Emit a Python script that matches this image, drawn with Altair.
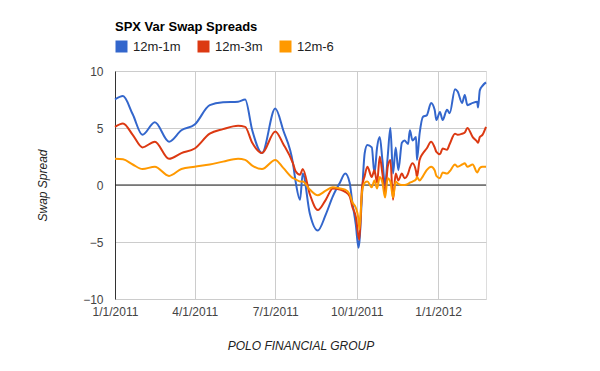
import altair as alt
import pandas as pd

FONT = "Liberation Sans, Arial, Helvetica, sans-serif"

dates = [
    "2011-01-01", "2011-01-10", "2011-01-21", "2011-02-01", "2011-02-15", "2011-03-03",
    "2011-03-17", "2011-04-01", "2011-04-18", "2011-05-03", "2011-05-20", "2011-05-28",
    "2011-06-05", "2011-06-16", "2011-07-01", "2011-07-10", "2011-07-21", "2011-07-24",
    "2011-07-29", "2011-08-01", "2011-08-09", "2011-08-18", "2011-08-27", "2011-09-04",
    "2011-09-12", "2011-09-18", "2011-09-23", "2011-09-26", "2011-09-30", "2011-10-03",
    "2011-10-04", "2011-10-07", "2011-10-10", "2011-10-13", "2011-10-18", "2011-10-21",
    "2011-10-24", "2011-10-27", "2011-10-30", "2011-11-02", "2011-11-05", "2011-11-08",
    "2011-11-11", "2011-11-14", "2011-11-17", "2011-11-21", "2011-11-24", "2011-11-28",
    "2011-11-30", "2011-12-03", "2011-12-07", "2011-12-08", "2011-12-11", "2011-12-15",
    "2011-12-19", "2011-12-24", "2011-12-28", "2011-12-30", "2012-01-03", "2012-01-06",
    "2012-01-11", "2012-01-14", "2012-01-20", "2012-01-23", "2012-01-28", "2012-01-31",
    "2012-02-03", "2012-02-09", "2012-02-14", "2012-02-15", "2012-02-17", "2012-02-20",
    "2012-02-24",
]

spread_12m_1m = [
    7.5, 7.8, 6.2, 4.4, 5.5, 3.8,
    4.8, 5.3, 7.0, 7.25, 7.3, 7.5,
    4.8, 2.8, 6.7, 4.8, 1.9, 0.3,
    -1.3, 1.0, -2.5, -4.0, -2.6, -1.0,
    0.2, 1.0, 0.2, -1.5, -3.5, -5.5,
    -5.0, -0.8, 2.8, 3.5, 3.3, 1.0,
    3.3, 4.2, 2.2, 0.0, 2.5, 5.0,
    1.0, 3.3, 1.3, 3.7, 3.9, 3.6,
    4.8, 3.9, 4.2, 2.2, 4.5, 6.0,
    6.1, 7.2, 6.6, 5.7, 6.4, 5.7,
    6.6, 6.3, 8.4, 8.2, 7.2, 7.9,
    7.0, 7.2, 7.3, 6.8, 8.3, 8.7,
    9.0,
]

spread_12m_3m = [
    5.1, 5.4, 4.4, 3.3, 3.8, 2.3,
    2.8, 3.2, 4.5, 4.9, 5.2, 5.1,
    3.7, 2.8, 4.7, 3.6, 1.9, 1.2,
    0.9, 1.4, -0.8, -2.2, -1.3, -0.3,
    -0.4, -0.6, -1.0, -1.9, -2.8, -4.5,
    -4.8, -0.2, 0.8, 1.6, 0.7, 1.3,
    0.2, 2.5, 1.0, -0.7, 1.6, 2.2,
    -1.3, 1.0, 0.4, 1.0, 0.6, 1.0,
    1.5, 1.9, 1.2, 0.7, 2.2, 2.8,
    3.2, 3.8, 3.3, 2.9, 2.7, 3.2,
    3.1, 3.6, 4.5, 4.4, 4.5, 4.6,
    5.0, 4.2, 3.8, 3.7, 4.2, 4.4,
    5.1,
]

spread_12m_6 = [
    2.3, 2.25, 1.8, 1.4, 1.6, 0.8,
    1.4, 1.6, 1.8, 2.05, 2.3, 2.2,
    1.7, 1.4, 2.2, 1.5, 0.6, 0.5,
    0.3, 0.3, -0.4, -0.9, -0.5, -0.2,
    -0.3, -0.4, -0.8, -1.5, -2.0, -3.0,
    -3.9, -0.6, 0.2, 0.3, -0.2, 0.4,
    -0.3, 0.7, 0.2, -1.1, 0.6, 0.3,
    -1.1, 0.3, 0.1, 0.0, 0.0, 0.1,
    0.2, 0.3, 0.5, 0.7, 0.4, 0.8,
    1.3, 1.6, 1.3, 0.8, 0.6, 1.1,
    1.0, 1.2, 1.8, 1.6, 1.8, 1.9,
    1.6, 1.8, 1.1, 1.2, 1.5, 1.6,
    1.6,
]

series_names = ["12m-1m", "12m-3m", "12m-6"]
series_colors = ["#3366cc", "#dc3912", "#ff9900"]
x_tick_dates = ["2011-01-01", "2011-04-01", "2011-07-01", "2011-10-01", "2012-01-01"]
x_domain = ["2011-01-01", "2012-02-24"]
y_ticks = [-10, -5, 0, 5, 10]
y_domain = [-10, 10]
zero_line = [0]


def dt(s):
    y, m, d = (int(p) for p in s.split("-"))
    return alt.DateTime(year=y, month=m, date=d)


rows = []
for name, vals in zip(series_names, [spread_12m_1m, spread_12m_3m, spread_12m_6]):
    for d, v in zip(dates, vals):
        rows.append({"date": d, "series": name, "value": v})
df = pd.DataFrame(rows)
df["date"] = pd.to_datetime(df["date"])

zero_df = pd.DataFrame({"value": zero_line})

y_axis = alt.Axis(
    values=y_ticks,
    title="Swap Spread",
    domain=True,
    domainColor="#333333",
    domainWidth=1,
    ticks=False,
    grid=True,
    gridColor="#cccccc",
    labelPadding=12,
    labelFontSize=12,
    labelColor="#444444",
    labelFont=FONT,
    titleFont=FONT,
    titleFontSize=12,
    titleFontStyle="italic",
    titleFontWeight="normal",
    titleColor="#222222",
    titleX=-73,
    titleY=114,
    titleAngle=270,
    titleAlign="center",
    titleBaseline="middle",
)
y_scale = alt.Scale(domain=y_domain, nice=False)

zero = alt.Chart(zero_df).mark_rule(color="#222222", strokeWidth=1).encode(
    y=alt.Y("value:Q", scale=y_scale, axis=y_axis)
)

lines = alt.Chart(df).mark_line(strokeWidth=2, interpolate="monotone").encode(
    x=alt.X(
        "date:T",
        scale=alt.Scale(domain=[dt(x_domain[0]), dt(x_domain[1])]),
        axis=alt.Axis(
            values=[dt(s) for s in x_tick_dates],
            format="%-m/%-d/%Y",
            title="POLO FINANCIAL GROUP",
            domain=False,
            ticks=False,
            grid=True,
            gridColor="#cccccc",
            labelPadding=7,
            labelFlush=False,
            labelOverlap=False,
            labelFontSize=12,
            labelColor="#444444",
            labelFont=FONT,
            titleFont=FONT,
            titleFontSize=12,
            titleFontStyle="italic",
            titleFontWeight="normal",
            titleColor="#222222",
            titleX=185.5,
            titleY=46,
            titleAlign="center",
            titleBaseline="middle",
        ),
    ),
    y=alt.Y("value:Q", scale=y_scale, axis=y_axis),
    color=alt.Color(
        "series:N",
        sort=series_names,
        scale=alt.Scale(domain=series_names, range=series_colors),
        legend=alt.Legend(
            title=None,
            orient="none",
            legendX=0,
            legendY=-31,
            direction="horizontal",
            symbolType="square",
            symbolSize=1,
            symbolStrokeWidth=11,
            labelFontSize=13,
            labelFont=FONT,
            labelColor="#222222",
            labelOffset=5,
            columnPadding=0,
            padding=0,
        ),
    ),
)

chart = alt.layer(zero, lines).properties(
    width=371,
    height=228,
    autosize=alt.AutoSizeParams(type="none"),
    padding={"left": 107, "top": 63, "right": 106, "bottom": 64},
    title=alt.TitleParams(
        "SPX Var Swap Spreads",
        anchor="start",
        frame="group",
        font=FONT,
        fontSize=13,
        fontWeight="bold",
        color="#000000",
        baseline="alphabetic",
        offset=9,
        dy=13,
    ),
).configure_view(stroke=None).configure(background="white")

chart.save("out.html", embed_options={"renderer": "svg", "actions": False})
